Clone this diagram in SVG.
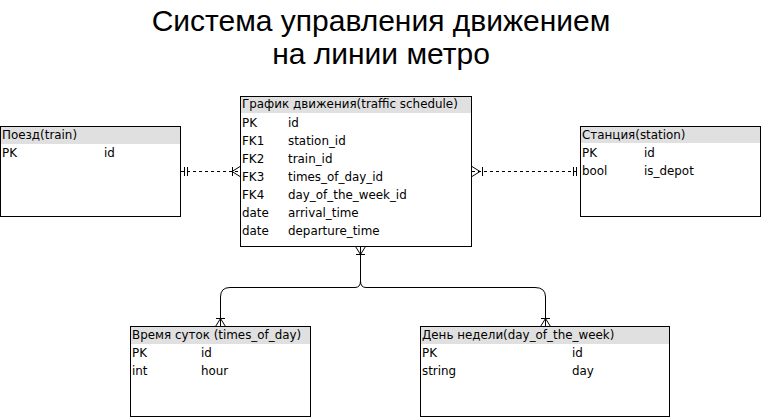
<svg xmlns="http://www.w3.org/2000/svg" width="761" height="417" viewBox="0 0 761 417">
<style>
.box{fill:#fff;stroke:#000;stroke-width:1}
.hdr{fill:#e0e0e0;stroke:none}
.t{font-family:"DejaVu Sans",Verdana,sans-serif;font-size:11.9px;fill:#000;dominant-baseline:central}
.title{font-family:"Liberation Sans",Arial,sans-serif;font-size:30px;fill:#000;text-anchor:middle}
.c{fill:none;stroke:#000;stroke-width:1}
.d{stroke-dasharray:3 3}
</style>
<rect width="761" height="417" fill="#fff"/>
<text class="title" x="381" y="31">Система управления движением</text>
<text class="title" x="381" y="64">на линии метро</text>

<g id="train">
<rect class="box" x="0.5" y="126.5" width="180" height="90"/>
<rect class="hdr" x="1" y="127" width="179" height="17"/>
<text class="t" x="2" y="135">Поезд(train)</text>
<text class="t" x="2" y="153">PK</text>
<text class="t" x="104" y="153">id</text>
</g>

<g id="schedule">
<rect class="box" x="240.5" y="96.5" width="231" height="150"/>
<rect class="hdr" x="241" y="97" width="230" height="16"/>
<text class="t" x="242" y="104">График движения(traffic schedule)</text>
<text class="t" x="242" y="123">PK</text><text class="t" x="288" y="123">id</text>
<text class="t" x="242" y="141">FK1</text><text class="t" x="288" y="141">station_id</text>
<text class="t" x="242" y="159">FK2</text><text class="t" x="288" y="159">train_id</text>
<text class="t" x="242" y="177">FK3</text><text class="t" x="288" y="177">times_of_day_id</text>
<text class="t" x="242" y="195">FK4</text><text class="t" x="288" y="195">day_of_the_week_id</text>
<text class="t" x="242" y="213">date</text><text class="t" x="288" y="213">arrival_time</text>
<text class="t" x="242" y="231">date</text><text class="t" x="288" y="231">departure_time</text>
</g>

<g id="station">
<rect class="box" x="580.5" y="126.5" width="180" height="90"/>
<rect class="hdr" x="581" y="127" width="179" height="16"/>
<text class="t" x="582" y="135">Станция(station)</text>
<text class="t" x="582" y="153">PK</text><text class="t" x="644" y="153">id</text>
<text class="t" x="582" y="171">bool</text><text class="t" x="644" y="171">is_depot</text>
</g>

<g id="times_of_day">
<rect class="box" x="130.5" y="326.5" width="180" height="90"/>
<rect class="hdr" x="131" y="327" width="179" height="17"/>
<text class="t" x="132" y="335">Время суток (times_of_day)</text>
<text class="t" x="132" y="353">PK</text><text class="t" x="201" y="353">id</text>
<text class="t" x="132" y="371">int</text><text class="t" x="201" y="371">hour</text>
</g>

<g id="day_of_the_week">
<rect class="box" x="420.5" y="326.5" width="249" height="90"/>
<rect class="hdr" x="421" y="327" width="248" height="17"/>
<text class="t" x="422" y="335">День недели(day_of_the_week)</text>
<text class="t" x="422" y="353">PK</text><text class="t" x="572" y="353">id</text>
<text class="t" x="422" y="371">string</text><text class="t" x="572" y="371">day</text>
</g>

<g id="connectors">
<!-- train - schedule -->
<path class="c d" d="M181 171.5H240"/>
<path class="c" d="M184.5 167v9M187.5 167v9"/>
<path class="c" d="M232.5 167v9M240 166.5L232 171.5L240 176.5"/>
<!-- schedule - station -->
<path class="c d" d="M472 171.5H580"/>
<path class="c" d="M472 166.5L480 171.5L472 176.5M482.5 167v9"/>
<path class="c" d="M573.5 167v9M576.5 167v9"/>
<!-- schedule - bottom -->
<path class="c" d="M360.5 246V281Q360.5 287.5 355 287.5H230Q220.5 287.5 220.5 297V327"/>
<path class="c" d="M360.5 281Q360.5 287.5 366 287.5H535Q545.5 287.5 545.5 297V327"/>
<path class="c" d="M355.5 246.5L360.5 254.5L365.5 246.5M356 254.5h9"/>
<path class="c" d="M215.5 326.5L220.5 318.5L225.5 326.5M216 318.5h9"/>
<path class="c" d="M540.5 326.5L545.5 318.5L550.5 326.5M541 318.5h9"/>
</g>
</svg>
